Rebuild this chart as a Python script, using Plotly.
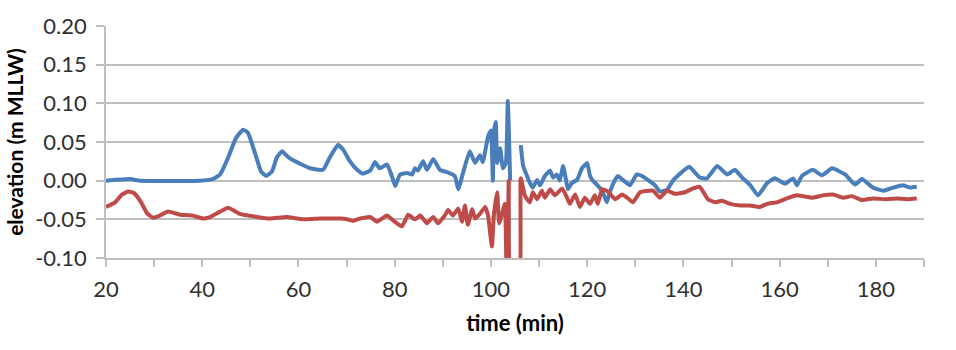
import plotly.graph_objects as go

# time (min) and elevation (m MLLW)
blue_t = [20.0, 25.0, 27.1, 39.5, 42.2, 43.7, 45.4, 47.0, 48.5, 49.5, 51.0, 52.2, 53.3, 54.5, 55.5,
          56.6, 57.6, 58.7, 60.3, 62.4, 65.1, 66.5, 68.2, 69.3, 70.7, 72.2, 73.4, 74.9, 75.9, 76.9,
          78.4, 79.4, 80.1, 81.1, 82.6, 83.6, 84.2, 84.8, 85.9, 86.7, 88.0, 89.4, 90.9, 92.5, 93.2,
          94.2, 95.6, 96.7, 97.7, 98.3, 99.4, 100.0, 100.4, 100.6, 101.0, 101.3, 101.9, 102.5, 103.1,
          103.5, 104.0, 105.0, 106.2, 106.7, 107.5, 108.1, 108.7, 109.6, 110.2, 111.2, 112.3, 112.9,
          113.7, 114.3, 115.0, 115.6, 116.0, 116.8, 117.9, 118.9, 119.5, 120.0, 120.6, 121.2, 122.0,
          123.1, 124.1, 124.7, 125.8, 126.4, 127.4, 128.9, 130.3, 131.4, 132.6, 134.1, 135.1, 136.6,
          137.8, 139.1, 141.2, 143.4, 144.9, 147.0, 149.1, 150.7, 152.2, 153.8, 155.5, 157.4, 159.0,
          161.1, 162.8, 163.6, 164.6, 166.9, 168.8, 170.9, 173.6, 175.7, 177.1, 179.4, 181.5, 183.6,
          185.6, 187.1, 188.5]
blue_v = [0.000, 0.002, 0.000, 0.000, 0.002, 0.008, 0.030, 0.055, 0.066, 0.062, 0.035, 0.012, 0.006, 0.012, 0.030,
          0.038, 0.032, 0.027, 0.022, 0.016, 0.014, 0.030, 0.046, 0.040, 0.025, 0.014, 0.009, 0.013, 0.024, 0.016,
          0.021, 0.006, -0.007, 0.008, 0.010, 0.008, 0.016, 0.013, 0.025, 0.014, 0.028, 0.014, 0.011, 0.006, -0.011,
          0.010, 0.038, 0.023, 0.033, 0.024, 0.057, 0.065, 0.000, 0.061, 0.076, 0.023, 0.042, 0.016, 0.023,
          0.103, 0.000, None, 0.046, 0.019, 0.006, -0.003, -0.009, 0.001, -0.006, 0.006, 0.013, 0.004,
          0.008, 0.000, 0.019, 0.001, -0.011, -0.003, 0.001, 0.016, 0.020, 0.023, 0.006, 0.000, -0.005,
          -0.013, -0.028, -0.015, 0.001, 0.006, 0.001, -0.006, 0.008, 0.006, 0.001, -0.006, -0.014, -0.012,
          0.000, 0.008, 0.018, 0.004, 0.003, 0.019, 0.008, 0.014, 0.004, -0.005, -0.019, -0.003, 0.003,
          -0.004, 0.003, -0.006, 0.006, 0.014, 0.007, 0.016, 0.008, -0.005, 0.002, -0.009, -0.013, -0.009,
          -0.006, -0.009, -0.008]

red_t = [20.0, 21.9, 23.3, 24.6, 25.8, 27.3, 28.5, 29.8, 31.2, 32.9, 35.4, 37.9, 40.2, 41.6, 43.7,
         45.4, 47.8, 51.4, 54.1, 57.6, 60.9, 64.5, 67.2, 68.6, 70.1, 71.3, 72.8, 74.9, 76.3, 78.4,
         79.6, 81.5, 82.8, 84.2, 85.3, 86.7, 88.0, 89.0, 90.4, 91.1, 92.1, 93.2, 94.0, 94.6, 95.2,
         96.1, 96.7, 97.7, 98.8, 99.4, 100.2, 100.6, 101.3, 101.7, 102.3, 102.9, 103.3, 103.7, 104.2,
         105.8, 106.2, 107.1, 108.1, 108.7, 109.6, 110.6, 111.2, 112.3, 113.3, 114.8, 115.8, 116.4,
         117.5, 118.5, 119.5, 120.6, 121.6, 122.2, 123.1, 124.3, 125.8, 127.2, 128.5, 129.5, 131.0,
         133.7, 135.1, 136.6, 138.2, 140.3, 142.0, 143.4, 145.1, 146.6, 148.0, 149.7, 151.8, 153.8,
         155.9, 157.4, 159.4, 161.5, 163.6, 164.8, 166.9, 169.0, 171.1, 173.2, 175.0, 177.1, 179.4,
         182.3, 184.4, 186.5, 188.5]
red_v = [-0.034, -0.028, -0.018, -0.014, -0.016, -0.028, -0.042, -0.048, -0.045, -0.040, -0.044, -0.045, -0.049, -0.047, -0.040,
         -0.035, -0.043, -0.047, -0.049, -0.047, -0.050, -0.049, -0.049, -0.049, -0.050, -0.052, -0.049, -0.047, -0.053, -0.045,
         -0.051, -0.059, -0.044, -0.050, -0.045, -0.055, -0.047, -0.055, -0.045, -0.038, -0.045, -0.036, -0.053, -0.032, -0.057,
         -0.037, -0.049, -0.043, -0.034, -0.045, -0.085, -0.045, -0.015, -0.055, -0.043, -0.030, -0.150, 0.000, -0.150,
         -0.150, 0.003, -0.020, -0.028, -0.015, -0.024, -0.013, -0.022, -0.011, -0.019, -0.010, -0.022, -0.030,
         -0.018, -0.034, -0.022, -0.030, -0.019, -0.030, -0.011, -0.014, -0.024, -0.018, -0.023, -0.028, -0.015,
         -0.013, -0.022, -0.013, -0.017, -0.015, -0.010, -0.008, -0.024, -0.028, -0.026, -0.030, -0.032, -0.032,
         -0.034, -0.030, -0.028, -0.023, -0.019, -0.020, -0.022, -0.019, -0.018, -0.022, -0.020, -0.025, -0.023,
         -0.024, -0.023, -0.024, -0.023]

x_tickvals = list(range(20, 191, 10))
x_ticktext = [str(v) if v % 20 == 0 and v < 190 else "" for v in x_tickvals]
y_tickvals = [-0.10, -0.05, 0.00, 0.05, 0.10, 0.15, 0.20]
y_ticktext = [f"{v:.2f}" for v in y_tickvals]  # plain hyphen minus, as in the reference

BLUE = "#4A7EBB"
RED = "#BE4B48"
GRID = "#BFBFBF"
TXT = "#303030"
FONT = "Lato"

fig = go.Figure()
fig.add_trace(go.Scatter(x=blue_t, y=blue_v, mode="lines", connectgaps=False,
                         line=dict(color=BLUE, width=4, shape="spline", smoothing=0.4),
                         showlegend=False))
fig.add_trace(go.Scatter(x=red_t, y=red_v, mode="lines",
                         line=dict(color=RED, width=4, shape="spline", smoothing=0.4),
                         showlegend=False))

fig.update_layout(
    width=956, height=350,
    margin=dict(l=106, r=32, t=20, b=92),
    paper_bgcolor="white", plot_bgcolor="white",
    font=dict(family=FONT, color=TXT, size=22),
    xaxis=dict(range=[20, 190], tickmode="array", tickvals=x_tickvals, ticktext=x_ticktext,
               ticks="outside", ticklen=7, tickwidth=1.5, tickcolor=GRID,
               ticklabelstandoff=4,
               showline=True, linecolor=GRID, linewidth=1.5, showgrid=False, zeroline=False,
               tickfont=dict(size=22, family=FONT, color=TXT),
               title=dict(text="<b>time (min)</b>", font=dict(size=22, family=FONT, color="#000000"),
                          standoff=14)),
    yaxis=dict(range=[-0.10, 0.20], tickmode="array", tickvals=y_tickvals, ticktext=y_ticktext,
               ticks="outside", ticklen=8, tickwidth=1.5, tickcolor=GRID,
               ticklabelstandoff=5,
               showline=True, linecolor=GRID, linewidth=1.5,
               showgrid=True, gridcolor=GRID, gridwidth=1.5, zeroline=False,
               tickfont=dict(size=22, family=FONT, color=TXT),
               title=dict(text="<b>elevation (m MLLW)</b>", font=dict(size=21, family=FONT, color="#000000"),
                          standoff=6)),
)

fig.write_html("out.html")
